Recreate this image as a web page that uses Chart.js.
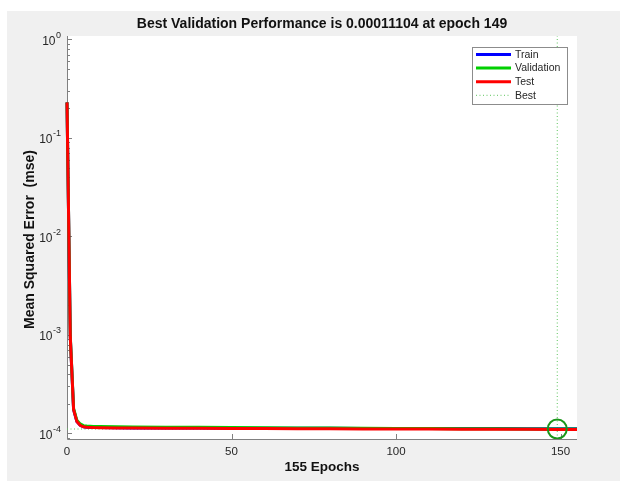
<!DOCTYPE html>
<html>
<head>
<meta charset="utf-8">
<script src="https://cdn.jsdelivr.net/npm/chart.js@4.4.1/dist/chart.umd.min.js"></script>
<style>
  html, body { margin: 0; padding: 0; background: #fff; }
  #wrap { width: 620px; height: 481px; }
</style>
</head>
<body>
<div id="wrap"><canvas id="perf"></canvas></div>
<script>
// mse per epoch from the training record (sampled where the curve bends)
const epochs    = [0, 1, 2, 3, 4, 5, 6, 8, 10, 15, 20, 30, 40, 50, 60, 70, 80, 90, 100, 110, 120, 130, 140, 149, 155];
const trainPerf = [0.23, 9.5e-4, 1.75e-4, 1.32e-4, 1.21e-4, 1.17e-4, 1.16e-4, 1.15e-4, 1.147e-4, 1.143e-4, 1.14e-4, 1.137e-4, 1.135e-4,
                   1.133e-4, 1.131e-4, 1.129e-4, 1.127e-4, 1.126e-4, 1.124e-4, 1.123e-4, 1.122e-4, 1.121e-4, 1.12e-4, 1.12e-4, 1.119e-4];
const valPerf   = [0.23, 9.8e-4, 1.8e-4, 1.36e-4, 1.25e-4, 1.2e-4, 1.19e-4, 1.18e-4, 1.175e-4, 1.17e-4, 1.165e-4, 1.16e-4, 1.155e-4,
                   1.15e-4, 1.145e-4, 1.14e-4, 1.135e-4, 1.13e-4, 1.126e-4, 1.122e-4, 1.118e-4, 1.115e-4, 1.112e-4, 1.1104e-4, 1.1108e-4];
const testPerf  = [0.23, 9.5e-4, 1.75e-4, 1.32e-4, 1.21e-4, 1.17e-4, 1.16e-4, 1.15e-4, 1.145e-4, 1.14e-4, 1.137e-4, 1.132e-4, 1.128e-4,
                   1.125e-4, 1.121e-4, 1.118e-4, 1.115e-4, 1.112e-4, 1.11e-4, 1.108e-4, 1.106e-4, 1.104e-4, 1.102e-4, 1.10e-4, 1.099e-4];

const bestEpoch   = 149;
const bestPerf    = 0.00011104;
const totalEpochs = 155;

const xTicks   = [0, 50, 100, 150];
const yDecades = [-4, -3, -2, -1, 0];
const yMin = 8.79e-5, yMax = 1.085;

const FONT = '"Liberation Sans", Arial, Helvetica, sans-serif';
const AXIS = '#808080';
const INK  = '#262626';
const DOT_GREEN = '#5cc45c';

const pts = vals => epochs.map((e, i) => ({ x: e, y: vals[i] }));

const legendItems = [
  { label: 'Train',      color: '#0000ff', dash: [] },
  { label: 'Validation', color: '#00d000', dash: [] },
  { label: 'Test',       color: '#ff0000', dash: [] },
  { label: 'Best',       color: DOT_GREEN, dash: [1, 2.5], width: 1 }
];

// grey figure, white axes, inward ticks and MATLAB-like labels
const matlabFrame = {
  id: 'matlabFrame',
  beforeDraw(chart) {
    const { ctx, chartArea: a, width, height } = chart;
    ctx.save();
    ctx.fillStyle = '#ffffff';
    ctx.fillRect(0, 0, width, height);
    ctx.fillStyle = '#f0f0f0';
    ctx.fillRect(7, 11, width - 7, height - 11);
    ctx.fillStyle = '#ffffff';
    ctx.fillRect(a.left, a.top, a.right - a.left, a.bottom - a.top);
    ctx.restore();
  },
  beforeDatasetsDraw(chart) {
    const { ctx, chartArea: a, scales: { x, y } } = chart;
    ctx.save();
    ctx.strokeStyle = AXIS;
    ctx.lineWidth = 1;
    ctx.beginPath();
    ctx.moveTo(a.left + 0.5, a.top);
    ctx.lineTo(a.left + 0.5, a.bottom + 0.5);
    ctx.lineTo(a.right, a.bottom + 0.5);
    // y ticks: decades long, 2..9 short
    for (let d = yDecades[0] - 1; d <= yDecades[yDecades.length - 1]; d++) {
      for (let m = 1; m <= 9; m++) {
        const v = m * Math.pow(10, d);
        if (v < yMin || v > yMax) continue;
        const py = Math.round(y.getPixelForValue(v)) + 0.5;
        ctx.moveTo(a.left, py);
        ctx.lineTo(a.left + (m === 1 ? 5 : 3), py);
      }
    }
    xTicks.forEach(t => {
      const px = Math.round(x.getPixelForValue(t)) + 0.5;
      ctx.moveTo(px, a.bottom);
      ctx.lineTo(px, a.bottom - 5);
    });
    ctx.stroke();

    ctx.fillStyle = INK;
    // y tick labels 10^n
    yDecades.forEach(d => {
      const py = y.getPixelForValue(Math.pow(10, d));
      const exp = String(d);
      ctx.font = `9px ${FONT}`;
      const ew = ctx.measureText(exp).width;
      ctx.font = `12px ${FONT}`;
      const bw = ctx.measureText('10').width;
      const right = a.left - 6;
      ctx.textBaseline = 'middle';
      ctx.textAlign = 'left';
      ctx.fillText('10', right - ew - bw - 0.5, py + 2);
      ctx.font = `9px ${FONT}`;
      ctx.fillText(exp, right - ew, py - 4);
    });
    // x tick labels
    ctx.font = `11.5px ${FONT}`;
    ctx.textAlign = 'center';
    xTicks.forEach(t => ctx.fillText(String(t), x.getPixelForValue(t), a.bottom + 13));

    // titles
    ctx.fillStyle = '#111';
    ctx.font = `bold 14px ${FONT}`;
    ctx.fillText(`Best Validation Performance is ${bestPerf.toFixed(8)} at epoch ${bestEpoch}`,
                 (a.left + a.right) / 2, 24);
    ctx.font = `bold 13.5px ${FONT}`;
    ctx.fillText(totalEpochs + ' Epochs', (a.left + a.right) / 2, a.bottom + 28);
    ctx.font = `bold 14px ${FONT}`;
    ctx.translate(30, (a.top + a.bottom) / 2 + 2);
    ctx.rotate(-Math.PI / 2);
    ctx.fillText('Mean Squared Error  (mse)', 0, 0);
    ctx.restore();
  },
  afterDatasetsDraw(chart) {
    const { ctx, chartArea: a } = chart;
    const w = 95, h = 57;
    const left = a.right - 10 - w, top = a.top + 11;
    ctx.save();
    ctx.fillStyle = '#fff';
    ctx.fillRect(left, top, w, h);
    ctx.strokeStyle = '#8c8c8c';
    ctx.lineWidth = 1;
    ctx.strokeRect(left + 0.5, top + 0.5, w, h);
    ctx.font = `10.5px ${FONT}`;
    ctx.textBaseline = 'middle';
    ctx.textAlign = 'left';
    legendItems.forEach((it, i) => {
      const ry = top + 7.5 + i * 13.6;
      ctx.strokeStyle = it.color;
      ctx.lineWidth = it.width || 3;
      ctx.setLineDash(it.dash);
      ctx.beginPath();
      ctx.moveTo(left + 4, ry);
      ctx.lineTo(left + 39, ry);
      ctx.stroke();
      ctx.setLineDash([]);
      ctx.fillStyle = INK;
      ctx.fillText(it.label, left + 43, ry + 0.5);
    });
    ctx.restore();
  }
};

// curves may spill a little past the axes, like MATLAB's thick lines
const curve = (label, vals, color, order) => ({
  label, data: pts(vals), borderColor: color, borderWidth: 3,
  pointRadius: 0, tension: 0, fill: false, order,
  clip: { left: 2, top: 0, right: 0, bottom: 2 }
});

new Chart(document.getElementById('perf'), {
  type: 'line',
  data: {
    datasets: [
      {
        label: 'Best', data: [{ x: bestEpoch, y: bestPerf }], showLine: false,
        pointRadius: 9.5, pointBorderWidth: 2, pointBorderColor: '#1a961a',
        pointBackgroundColor: 'rgba(0,0,0,0)', order: 0
      },
      curve('Test', testPerf, '#ff0000', 1),
      curve('Validation', valPerf, '#00d000', 2),
      curve('Train', trainPerf, '#0000ff', 3),
      {
        label: 'best epoch', data: [{ x: bestEpoch, y: yMin }, { x: bestEpoch, y: yMax }],
        borderColor: DOT_GREEN, borderWidth: 1, borderDash: [1, 2.5], pointRadius: 0, order: 5
      },
      {
        label: 'best perf', data: [{ x: 0, y: bestPerf }, { x: totalEpochs, y: bestPerf }],
        borderColor: DOT_GREEN, borderWidth: 1, borderDash: [1, 2.5], pointRadius: 0, order: 5
      }
    ]
  },
  options: {
    responsive: true,
    maintainAspectRatio: false,
    devicePixelRatio: 1,
    animation: false,
    layout: { padding: { top: 36, right: 43, bottom: 0, left: 0 } },
    plugins: {
      legend: { display: false },
      tooltip: { enabled: false },
      title: { display: false }
    },
    scales: {
      x: {
        type: 'linear', min: 0, max: totalEpochs,
        grid: { display: false }, border: { display: false },
        ticks: { display: false },
        afterFit: s => { s.height = 42; }
      },
      y: {
        type: 'logarithmic', min: yMin, max: yMax,
        grid: { display: false }, border: { display: false },
        ticks: { display: false },
        afterFit: s => { s.width = 67; }
      }
    }
  },
  plugins: [matlabFrame]
});
</script>
</body>
</html>
